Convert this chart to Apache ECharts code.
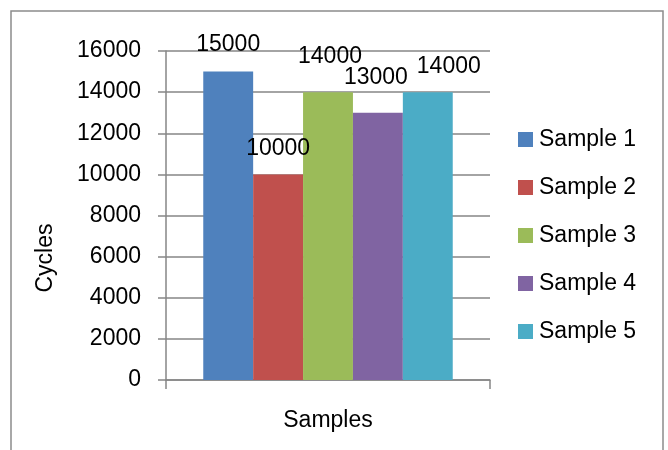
<!DOCTYPE html>
<html>
<head>
<meta charset="utf-8">
<script src="https://cdn.jsdelivr.net/npm/echarts@6/dist/echarts.min.js"></script>
<style>
  html, body { margin: 0; padding: 0; background: #fff; }
  #chart { width: 668px; height: 450px; }
</style>
</head>
<body>
<div id="chart"></div>
<script>
var categories = [''];
var seriesNames = ['Sample 1', 'Sample 2', 'Sample 3', 'Sample 4', 'Sample 5'];
var seriesValues = [15000, 10000, 14000, 13000, 14000];
var colors = ['#4F81BD', '#C0504D', '#9BBB59', '#8064A2', '#4BACC6'];
// labels in the source are nudged a bit, mostly upwards
var labelOffsets = [[0, -10], [0, -9], [2, -19], [-2, -19], [21, -9]];

var font = 'Liberation Sans, Arial, sans-serif';
var fs = 23;

var series = seriesNames.map(function (name, i) {
  return {
    name: name,
    type: 'bar',
    data: [seriesValues[i]],
    barGap: '0%',
    barCategoryGap: '23%',
    itemStyle: { color: colors[i] },
    label: {
      show: true,
      position: 'top',
      distance: 5,
      offset: labelOffsets[i],
      color: '#000',
      fontSize: fs,
      fontFamily: font
    }
  };
});

var chart = echarts.init(document.getElementById('chart'));
chart.setOption({
  animation: false,
  grid: { left: 166, top: 51, right: 178, bottom: 70, containLabel: false },
  legend: {
    orient: 'vertical',
    left: 513,
    top: 123,
    itemWidth: 15,
    itemHeight: 15,
    itemGap: 25,
    icon: 'rect',
    textStyle: { fontSize: fs, fontFamily: font, color: '#000', padding: [0, 0, 0, 1] },
    data: seriesNames
  },
  xAxis: {
    type: 'category',
    data: categories,
    name: 'Samples',
    nameLocation: 'middle',
    nameGap: 29,
    nameTextStyle: { fontSize: fs, fontFamily: font, color: '#000' },
    axisLine: { lineStyle: { color: '#868686', width: 1.5 } },
    axisTick: { show: true, length: 9, lineStyle: { color: '#868686', width: 1.5 } },
    axisLabel: { show: false }
  },
  yAxis: {
    type: 'value',
    min: 0,
    max: 16000,
    interval: 2000,
    axisLine: { show: true, lineStyle: { color: '#868686', width: 1.5 } },
    axisTick: { show: true, length: 8, lineStyle: { color: '#868686', width: 1.5 } },
    axisLabel: {
      margin: 25,
      fontSize: fs,
      fontFamily: font,
      color: '#000',
      formatter: function (v) { return String(v); }
    },
    splitLine: { lineStyle: { color: '#868686', width: 1.5 } }
  },
  graphic: [
    {
      type: 'rect',
      shape: { x: 11, y: 11, width: 652, height: 470 },
      style: { fill: 'none', stroke: '#8c8c8c', lineWidth: 1.5 },
      silent: true
    },
    {
      type: 'text',
      x: 46,
      y: 258,
      rotation: Math.PI / 2,
      style: {
        text: 'Cycles',
        fontSize: fs,
        fontFamily: font,
        fill: '#000',
        align: 'center',
        verticalAlign: 'middle'
      },
      silent: true
    }
  ],
  series: series
});
</script>
</body>
</html>
